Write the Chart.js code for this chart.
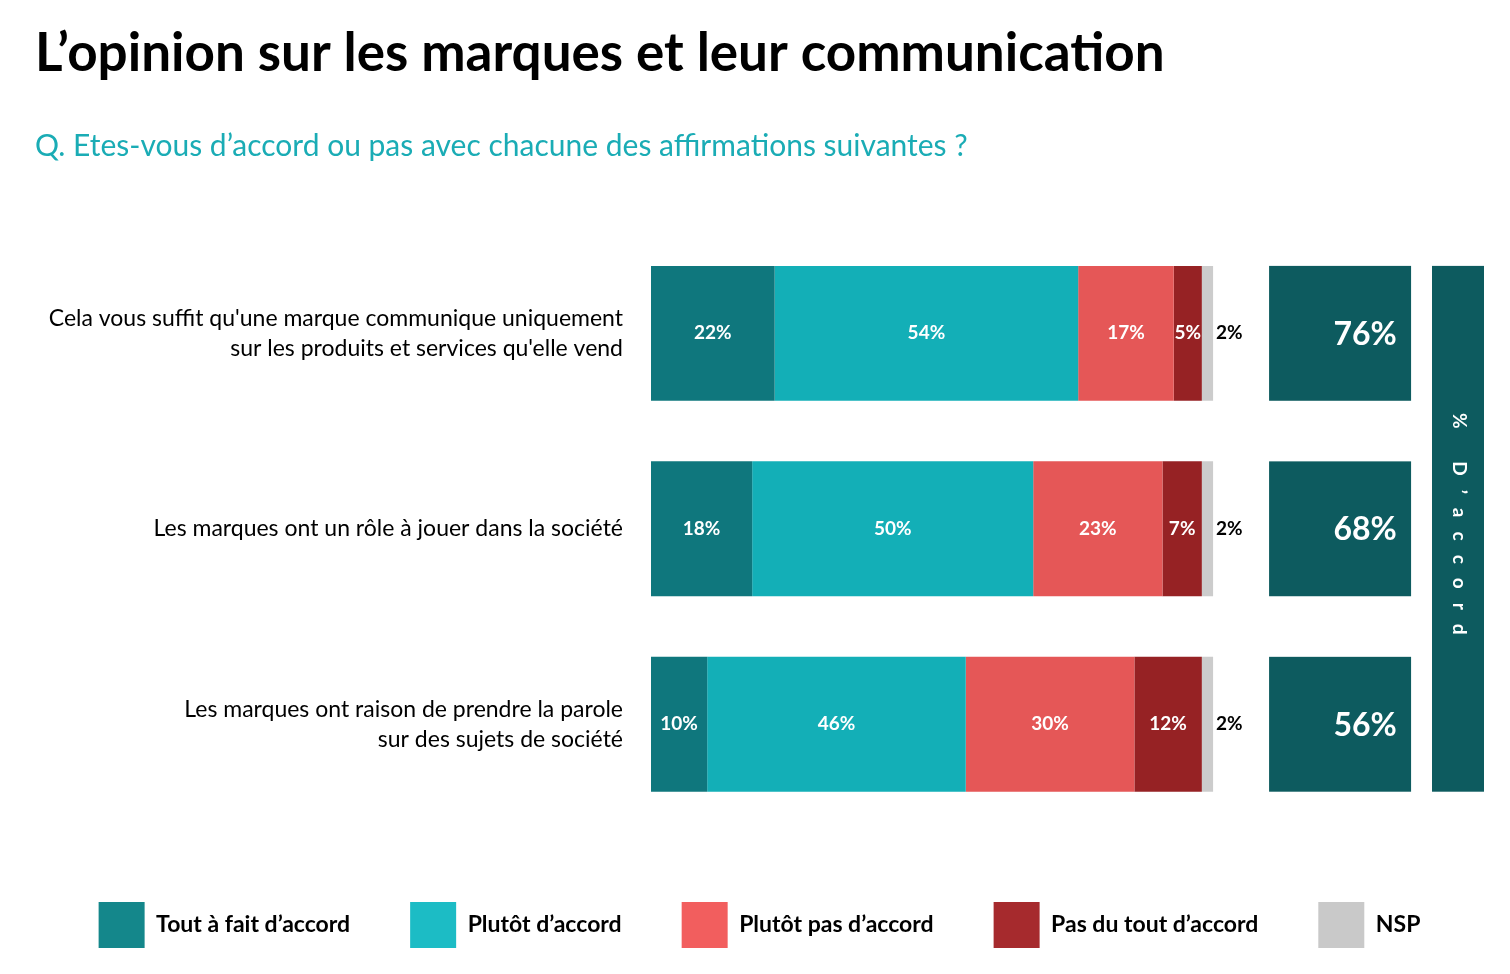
<!DOCTYPE html>
<html lang="fr">
<head>
<meta charset="utf-8">
<title>L’opinion sur les marques et leur communication</title>
<script src="https://cdn.jsdelivr.net/npm/chart.js@4"></script>
<style>
  html, body { margin: 0; padding: 0; background: #fff; }
  #wrap { position: relative; width: 1510px; height: 974px; }
</style>
</head>
<body>
<div id="wrap"><canvas id="chart"></canvas></div>
<script>
// Affirmations (axe des catégories)
const questions = [
  ["Cela vous suffit qu'une marque communique uniquement", "sur les produits et services qu'elle vend"],
  "Les marques ont un rôle à jouer dans la société",
  ["Les marques ont raison de prendre la parole", "sur des sujets de société"]
];

// Réponses en %
const toutAFait = [22, 18, 10];
const plutot = [54, 50, 46];
const plutotPas = [17, 23, 30];
const pasDuTout = [5, 7, 12];
const nsp = [2, 2, 2];

// Total "% d'accord"
const totalAccord = [76, 68, 56];

const seriesNames = ["Tout à fait d’accord", "Plutôt d’accord", "Plutôt pas d’accord", "Pas du tout d’accord", "NSP"];
const barColors = ['#0F777D', '#13AFB7', '#E55757', '#962224', '#CCCCCC'];
const legendColors = ['#14878B', '#1CBCC5', '#F25E5E', '#A62A2D', '#C9C9C9'];
const FONT = 'Lato, "Open Sans", sans-serif';

/**
 * Writes the value inside each segment, and the NSP value just after the bar.
 */
const segmentLabels = {
  id: 'segmentLabels',
  afterDatasetsDraw(chart) {
    const ctx = chart.ctx;
    ctx.save();
    ctx.font = 'bold 19px ' + FONT;
    ctx.textBaseline = 'middle';
    chart.data.datasets.forEach((ds, di) => {
      const meta = chart.getDatasetMeta(di);
      meta.data.forEach((bar, i) => {
        const label = ds.data[i] + '%';
        if (di === 4) {
          ctx.fillStyle = '#000';
          ctx.textAlign = 'left';
          ctx.fillText(label, bar.x + 3, bar.y);
        } else {
          ctx.fillStyle = '#fff';
          ctx.textAlign = 'center';
          ctx.fillText(label, (bar.x + bar.base) / 2, bar.y);
        }
      });
    });
    ctx.restore();
  }
};

/**
 * Draws the "% d'accord" boxes and the vertical band on the right.
 */
const accordBoxes = {
  id: 'accordBoxes',
  afterDraw(chart) {
    const ctx = chart.ctx;
    const x100 = chart.scales.x.getPixelForValue(100);
    const bars = chart.getDatasetMeta(0).data;
    ctx.save();
    bars.forEach((bar, i) => {
      const top = bar.y - bar.height / 2;
      ctx.fillStyle = '#0D5B5F';
      ctx.fillRect(x100 + 56, top, 142, bar.height);
      ctx.fillStyle = '#fff';
      ctx.font = 'bold 32px ' + FONT;
      ctx.textAlign = 'center';
      ctx.textBaseline = 'middle';
      ctx.fillText(totalAccord[i] + '%', x100 + 152, bar.y + 1);
    });

    // bande verticale
    const first = bars[0], last = bars[bars.length - 1];
    const top = first.y - first.height / 2;
    const bottom = last.y + last.height / 2;
    const right = chart.chartArea.right;
    ctx.fillStyle = '#0D5B5F';
    ctx.fillRect(right - 52, top, 52, bottom - top);

    ctx.translate(right - 25, (top + bottom) / 2 - 5);
    ctx.rotate(Math.PI / 2);
    ctx.fillStyle = '#fff';
    ctx.font = 'bold 19px ' + FONT;
    ctx.textBaseline = 'middle';
    ctx.textAlign = 'left';
    const text = "% D’accord";
    const spacing = 14;
    const chars = [...text];
    const total = chars.reduce((s, c) => s + ctx.measureText(c).width + spacing, -spacing);
    let cx = -total / 2;
    chars.forEach(c => {
      ctx.fillText(c, cx, 0);
      cx += ctx.measureText(c).width + spacing;
    });
    ctx.restore();
  }
};

const values = [toutAFait, plutot, plutotPas, pasDuTout, nsp];

new Chart(document.getElementById('chart'), {
  type: 'bar',
  data: {
    labels: questions,
    datasets: values.map((data, i) => ({
      label: seriesNames[i],
      data: data,
      backgroundColor: barColors[i],
      borderWidth: 0,
      categoryPercentage: 1,
      barPercentage: 0.69
    }))
  },
  plugins: [segmentLabels, accordBoxes],
  options: {
    indexAxis: 'y',
    responsive: true,
    maintainAspectRatio: false,
    animation: false,
    layout: { padding: { left: 35, right: 26, top: 22, bottom: 16 } },
    plugins: {
      title: {
        display: true,
        text: 'L’opinion sur les marques et leur communication',
        align: 'start',
        color: '#000',
        font: { family: FONT, size: 53, weight: 'bold' },
        padding: { top: 0, bottom: 43 }
      },
      subtitle: {
        display: true,
        text: 'Q. Etes-vous d’accord ou pas avec chacune des affirmations suivantes ?',
        align: 'start',
        color: '#1AACB5',
        font: { family: FONT, size: 30 },
        padding: { top: 0, bottom: 71 }
      },
      legend: {
        position: 'bottom',
        labels: {
          boxWidth: 46,
          boxHeight: 46,
          padding: 60,
          color: '#000',
          font: { family: FONT, size: 23, weight: 'bold' },
          generateLabels(chart) {
            const items = Chart.defaults.plugins.legend.labels.generateLabels(chart);
            items.forEach((it, i) => {
              it.fillStyle = legendColors[i];
              it.strokeStyle = legendColors[i];
              it.lineWidth = 0;
            });
            return items;
          }
        }
      },
      tooltip: { enabled: false }
    },
    scales: {
      x: {
        stacked: true,
        min: 0,
        max: 148.2, // laisse la place des encadrés "% d'accord" à droite
        grid: { display: false },
        border: { display: false },
        ticks: { display: false },
        afterFit(scale) { scale.height = 20; }
      },
      y: {
        stacked: true,
        grid: { display: false },
        border: { display: false },
        ticks: {
          color: '#000',
          padding: 20,
          font: { family: FONT, size: 23, lineHeight: 1.3 }
        },
        afterFit(scale) { scale.width = 616; }
      }
    }
  }
});
</script>
</body>
</html>
